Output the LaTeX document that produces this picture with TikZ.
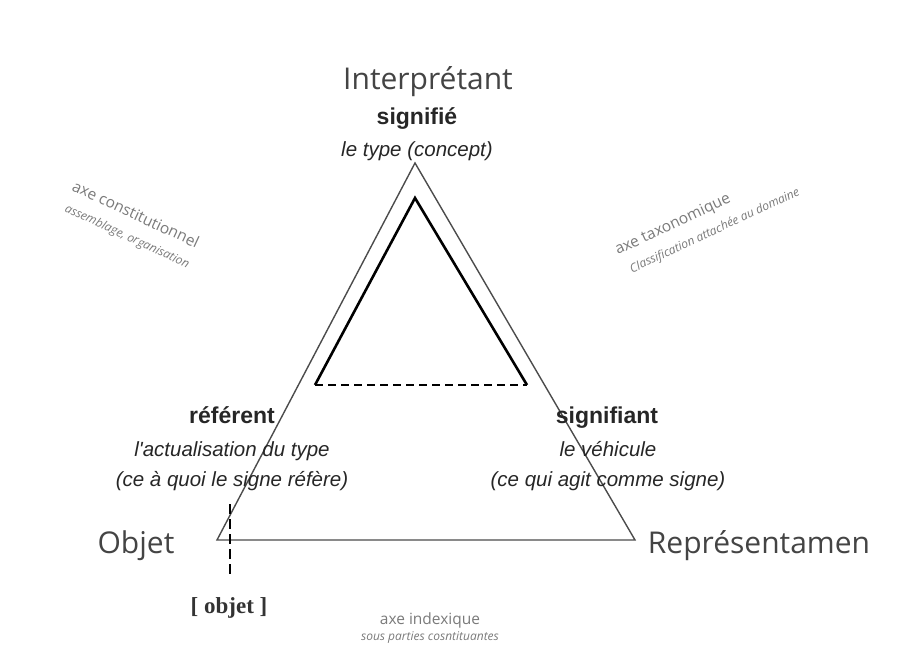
\documentclass[tikz,border=0pt]{standalone}
\usepackage{fontspec}
\setmainfont{Liberation Sans}
\newfontfamily\polefont{Open Sans}
\newfontfamily\objetfont{Liberation Serif}
\usepackage{tikz}
\usetikzlibrary{positioning}
\definecolor{polegray}{HTML}{444444}
\definecolor{axegray}{HTML}{7A7A7A}

\tikzset{
  pole/.style={text=polegray, inner sep=0pt, anchor=base, font=\polefont\fontsize{30}{32}\selectfont},
  role/.style={text=black!85, inner sep=0pt, anchor=base, font=\bfseries\fontsize{23}{25}\selectfont},
  gloss/.style={text=black!85, inner sep=0pt, anchor=base, font=\itshape\fontsize{20.5}{22}\selectfont},
  axe/.style={text=axegray, inner sep=0pt, font=\polefont\fontsize{15.5}{17}\selectfont},
  axenote/.style={text=axegray, inner sep=0pt, font=\polefont\itshape\fontsize{12}{13}\selectfont},
}

\begin{document}
\begin{tikzpicture}[x=1pt,y=-1pt]
\useasboundingbox (0,0) rectangle (902,655);
\coordinate (I) at (415,163);
\coordinate (O) at (217,540);
\coordinate (R) at (635,540);
\coordinate (i) at (415,198);
\coordinate (o) at (315,385);
\coordinate (r) at (527,385);
\draw[line width=1.4pt, black!70, line join=miter] (I) -- (O) -- (R) -- cycle;
\draw[line width=2.6pt, line join=miter] (o) -- (i) -- (r);
\draw[line width=1.8pt, dash pattern=on 8pt off 5pt] (o) -- (r);

\node[pole] (interp) at (428,90) {Interprétant};
\node[pole] (objet) at (136,553) {Objet};
\node[pole] (repr) at (759,553) {Représentamen};

\node[role] (signifie) at (417,125) {signifié};
\node[gloss] (type) at (417,157) {le type (concept)};

\node[role] (referent) at (232,423) {référent};
\node[gloss] (actu) at (232,456) {l\textquotesingle actualisation du type};
\node[gloss] (refere) at (232,486) {(ce à quoi le signe réfère)};

\node[role] (signifiant) at (607,423) {signifiant};
\node[gloss] (vehicule) at (608,456) {le véhicule};
\node[gloss] (agit) at (608,486) {(ce qui agit comme signe)};

\coordinate (d1) at (230,504);
\coordinate (d2) at (230,578);
\draw[line width=1.8pt, dash pattern=on 10pt off 5pt] (d1) -- (d2);
\node[inner sep=0pt, anchor=base, text=black!80, font=\objetfont\bfseries\fontsize{23}{25}\selectfont] (obj) at (229,613) {[ objet ]};

\node[axe, rotate=-25] (constit) at (136,214) {axe constitutionnel};
\node[axenote, rotate=-25] (assemb) at (127,237) {assemblage, organisation};
\node[axe, rotate=25] (taxo) at (673,225) {axe taxonomique};
\node[axenote, rotate=25] (classif) at (715,231) {Classification attachée au domaine};
\node[axe, anchor=base] (index) at (430,624) {axe indexique};
\node[axenote, anchor=base] (sousparties) at (430,640) {sous parties cosntituantes};
\end{tikzpicture}
\end{document}
